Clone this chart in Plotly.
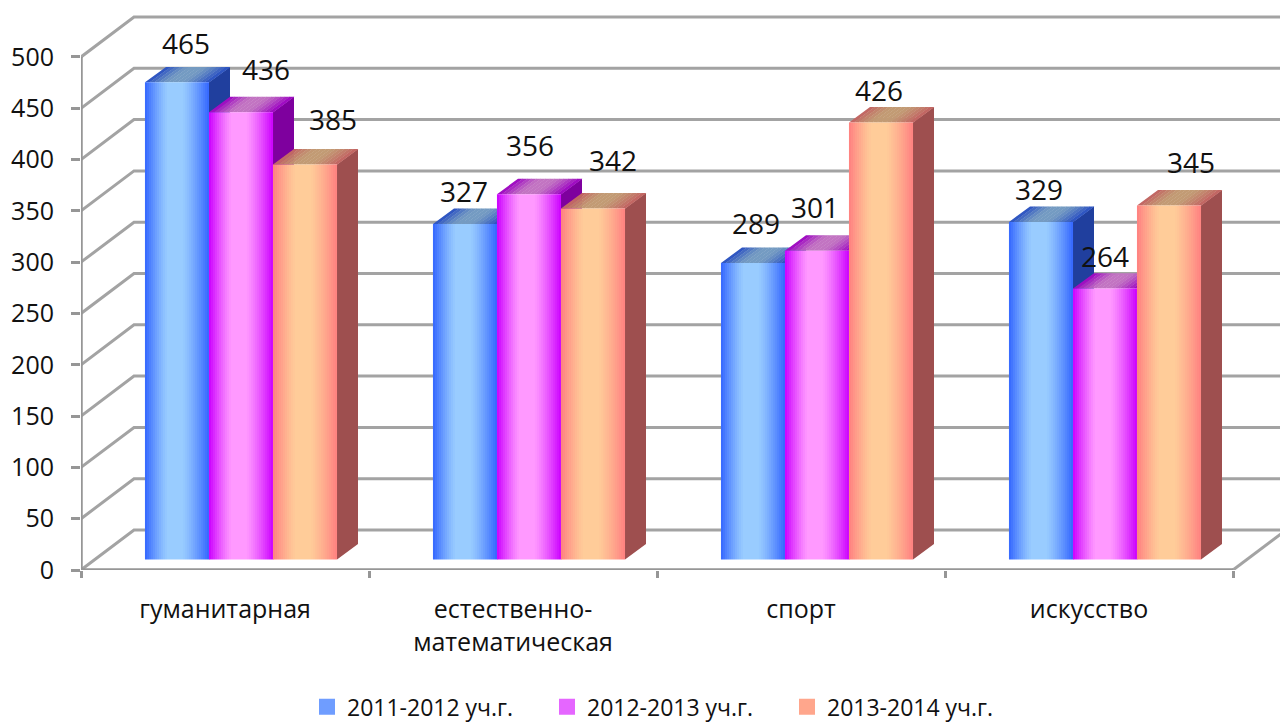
import plotly.graph_objects as go

categories = ["гуманитарная", "естественно-<br>математическая", "спорт", "искусство"]
series_names = ["2011-2012 уч.г.", "2012-2013 уч.г.", "2013-2014 уч.г."]
values_2011 = [465, 327, 289, 329]
values_2012 = [436, 356, 301, 264]
values_2013 = [385, 342, 426, 345]
y_ticks = [0, 50, 100, 150, 200, 250, 300, 350, 400, 450, 500]

# manual data-label displacement from the centre of each bar top (px right, px up)
label_dx = [[9, -1, 3, -2], [25, 1, -2, 0], [28, 20, -2, 22]]
label_dy = [[35, 29, 36, 29], [39, 45, 40, 29], [42, 45, 28, 40]]

series_values = [values_2011, values_2012, values_2013]
edge = [(0x33, 0x66, 0xff), (0xcc, 0x00, 0xff), (0xff, 0x80, 0x80)]
mid = [(0x99, 0xcc, 0xff), (0xff, 0x99, 0xff), (0xff, 0xcc, 0x99)]
swatch = ["#6f9dff", "#e566ff", "#ffa68c"]

W, H = 1280, 722
L, B = 81, 151.5
PX_X = 288.0           # px per category
PX_Y = 1.027           # px per value unit
plot_h = H - B
x_max = (W - L) / PX_X
y_max = plot_h / PX_Y
px = lambda p: p / PX_X
py = lambda p: p / PX_Y

WALL_DX, WALL_DY = px(53), py(40)
BAR_DX, BAR_DY = px(21), py(15.5)
BAR_OFFSET, BAR_W = px(64), px(64)
BAR_BASE = py(10.5)
N_SLICES = 32
GRID = "#a3a3a3"


def mix(a, b, t):
    return tuple(a[i] + (b[i] - a[i]) * t for i in range(3))


def shade(c, f):
    return tuple(v * f for v in c)


def css(c):
    return "rgb(%d,%d,%d)" % tuple(round(v) for v in c)


def ramp(t):
    """Position 0..1 across the bar face -> blend amount edge..mid."""
    d = abs(t - 0.46) / 0.46 if t < 0.46 else abs(t - 0.46) / 0.54
    d = min(d, 1)
    return 1 - max(0, (d - 0.22) / 0.78) ** 1.25


fig = go.Figure()

# walls: gridlines on the back wall and their diagonals down to the front axis
gx, gy = [], []
for v in y_ticks:
    gx += [0, WALL_DX, x_max, None]
    gy += [v, v + WALL_DY, v + WALL_DY, None]
gx += [4, 4 + WALL_DX, None]
gy += [0, WALL_DY, None]
fig.add_trace(go.Scatter(x=gx, y=gy, mode="lines", showlegend=False, hoverinfo="skip",
                         line=dict(color=GRID, width=3)))
fig.add_trace(go.Scatter(x=[0, 0, None, 0, 4], y=[500, 0, None, 0, 0], mode="lines",
                         showlegend=False, hoverinfo="skip", line=dict(color="#969696", width=3.5)))

# side and top faces, series by series so that later bars overlap earlier ones
TOP_SLICES = 14
for s, vals in enumerate(series_values):
    sx, sy = [], []
    for c, v in enumerate(vals):
        x1 = c + BAR_OFFSET + BAR_W * (s + 1)
        sx += [x1, x1 + BAR_DX, x1 + BAR_DX, x1, x1, None]
        sy += [BAR_BASE, BAR_BASE + BAR_DY, BAR_BASE + BAR_DY + v, BAR_BASE + v, BAR_BASE, None]
    fig.add_trace(go.Scatter(x=sx, y=sy, mode="lines", fill="toself", showlegend=False, hoverinfo="skip",
                             fillcolor=css(shade(edge[s], 0.62)), line=dict(width=0)))
    for k in range(TOP_SLICES):
        t0, t1 = k / TOP_SLICES, (k + 1) / TOP_SLICES
        col = mix(edge[s], mid[s], ramp((t0 + t1) / 2))
        tx, ty = [], []
        for c, v in enumerate(vals):
            x0 = c + BAR_OFFSET + BAR_W * s
            a, b = x0 + BAR_W * t0, x0 + BAR_W * t1 + px(0.4)
            top = BAR_BASE + v
            tx += [a, b, b + BAR_DX, a + BAR_DX, a, None]
            ty += [top, top, top + BAR_DY, top + BAR_DY, top, None]
        fig.add_trace(go.Scatter(x=tx, y=ty, mode="lines", fill="toself", showlegend=False, hoverinfo="skip",
                                 fillcolor=css(shade(col, 0.76)), line=dict(width=0)))

# front faces, as thin bars forming the horizontal gradient, on an overlaid subplot
for s, vals in enumerate(series_values):
    xs, ys, cols = [], [], []
    for c, v in enumerate(vals):
        x0 = c + BAR_OFFSET + BAR_W * s
        for k in range(N_SLICES):
            t = (k + 0.5) / N_SLICES
            xs.append(x0 + BAR_W * t)
            ys.append(v)
            cols.append(css(mix(edge[s], mid[s], ramp(t))))
    fig.add_trace(go.Bar(x=xs, y=ys, base=BAR_BASE, width=BAR_W / N_SLICES * 1.04, xaxis="x2", yaxis="y2",
                         marker=dict(color=cols, line=dict(width=0)), showlegend=False, hoverinfo="skip"))
    fig.add_trace(go.Scatter(x=[None], y=[None], mode="markers", name=series_names[s], xaxis="x2", yaxis="y2",
                             marker=dict(symbol="square", size=16, color=swatch[s])))

# data labels
lx, ly, lt = [], [], []
for s, vals in enumerate(series_values):
    for c, v in enumerate(vals):
        lx.append(c + BAR_OFFSET + BAR_W * (s + 0.5) + px(label_dx[s][c]))
        ly.append(BAR_BASE + v + py(label_dy[s][c]))
        lt.append(str(v))
fig.add_trace(go.Scatter(x=lx, y=ly, text=lt, mode="text", textposition="middle center", xaxis="x2", yaxis="y2",
                         textfont=dict(size=28, color="#111111"), showlegend=False, hoverinfo="skip", cliponaxis=False))

fig.update_layout(
    width=W, height=H,
    margin=dict(l=L, r=0, t=0, b=B, autoexpand=False),
    paper_bgcolor="white", plot_bgcolor="white",
    font=dict(family="Open Sans", color="#111111"),
    barmode="overlay",
    xaxis=dict(range=[0, x_max], tickmode="array", tickvals=[0.5, 1.5, 2.5, 3.5], ticktext=categories,
               ticks="", showgrid=False, zeroline=False, showline=False, tickangle=0,
               tickfont=dict(size=25), ticklabelstandoff=22,
               minor=dict(tickmode="array", tickvals=[0, 1, 2, 3, 4], ticks="outside", ticklen=7, tickwidth=2.5,
                          tickcolor="#969696", showgrid=False)),
    yaxis=dict(range=[0, y_max], tickmode="array", tickvals=y_ticks, ticks="outside", ticklen=9, tickwidth=2.5,
               tickcolor="#969696", showgrid=False, zeroline=False, showline=False,
               tickfont=dict(size=25), ticklabelstandoff=12),
    xaxis2=dict(range=[0, x_max], overlaying="x", visible=False),
    yaxis2=dict(range=[0, y_max], overlaying="y", visible=False),
    legend=dict(orientation="h", x=(307 - L) / (W - L), xanchor="left", y=(plot_h - 686) / plot_h, yanchor="top",
                entrywidth=195, entrywidthmode="pixels", font=dict(size=23), bgcolor="rgba(0,0,0,0)",
                itemclick=False, itemdoubleclick=False),
)

fig.write_html("out.html", post_script="document.body.style.margin='0';", config={"displayModeBar": False})
